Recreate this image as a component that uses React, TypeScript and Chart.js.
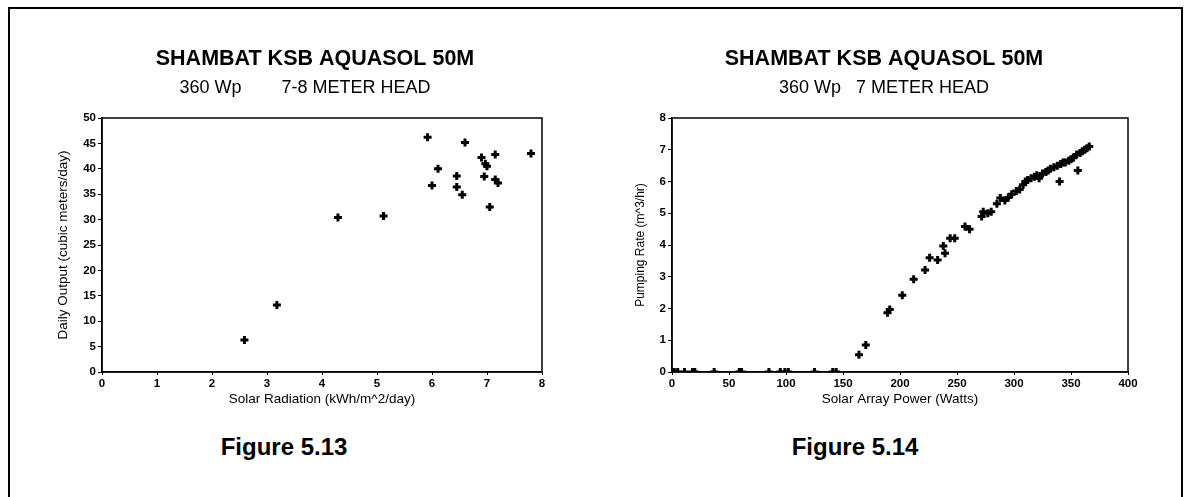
import React, { useEffect, useRef } from "react";
import { Chart, registerables } from "chart.js";

Chart.register(...registerables);

// ---------- Data ----------
const leftTitle = "SHAMBAT KSB AQUASOL 50M";
const leftSubtitle = "360 Wp        7-8 METER HEAD    ";
const leftXLabel = "Solar Radiation (kWh/m^2/day)";
const leftYLabel = "Daily Output (cubic meters/day)";
const leftRadiation = [2.59, 3.18, 4.29, 5.12, 5.92, 6.0, 6.11, 6.45, 6.45, 6.55, 6.6, 6.9, 6.95, 6.97, 7.0, 7.05, 7.15, 7.15, 7.2, 7.8];
const leftOutput = [6.3, 13.2, 30.4, 30.7, 46.2, 36.7, 40.0, 38.6, 36.4, 34.9, 45.2, 42.2, 38.5, 41.0, 40.5, 32.5, 42.8, 37.9, 37.2, 43.0];

const rightTitle = "SHAMBAT KSB AQUASOL 50M";
const rightSubtitle = "360 Wp   7 METER HEAD";
const rightXLabel = "Solar Array Power (Watts)";
const rightYLabel = "Pumping Rate (m^3/hr)";
const rightPower = [
  0, 2, 5, 11, 18, 20, 37, 59, 61, 85, 95, 99, 102, 125, 141, 144,
  164, 170, 189, 191, 202, 212, 222, 226, 233, 238, 239.5, 244, 248, 257, 261,
  271.6, 273, 277, 280, 285, 288, 292, 295, 298, 302, 305, 308, 310, 312, 315,
  318, 320, 322, 325, 328, 330, 332, 335, 338, 340, 341, 343, 345, 348, 350,
  352, 355, 356, 358, 360, 362, 364, 366,
];
const rightRate = [
  0, 0, 0, 0, 0, 0, 0, 0, 0, 0, 0, 0, 0, 0, 0, 0,
  0.54, 0.85, 1.87, 1.97, 2.42, 2.92, 3.21, 3.6, 3.53, 3.97, 3.74, 4.21, 4.21, 4.58, 4.5,
  4.9, 5.05, 5.0, 5.05, 5.3, 5.48, 5.4, 5.5, 5.6, 5.7, 5.75, 5.9, 6.0, 6.05, 6.1,
  6.15, 6.2, 6.1, 6.25, 6.3, 6.35, 6.4, 6.45, 6.5, 6.0, 6.55, 6.6, 6.6, 6.65, 6.7,
  6.75, 6.85, 6.35, 6.9, 6.95, 7.0, 7.05, 7.1,
];

const figureLabels = ["Figure 5.13", "Figure 5.14"];

const FONT = "'Liberation Sans', Arial, Helvetica, sans-serif";

const boxPlugin = {
  id: "plotBox",
  afterDraw(chart: any) {
    const { ctx, chartArea } = chart;
    ctx.save();
    ctx.strokeStyle = "#000";
    ctx.lineWidth = 1.5;
    ctx.strokeRect(chartArea.left, chartArea.top, chartArea.right - chartArea.left, chartArea.bottom - chartArea.top);
    ctx.restore();
  },
};

function makeConfig(opts: {
  xs: number[];
  ys: number[];
  title: string;
  subtitle: string;
  xLabel: string;
  yLabel: string;
  xMax: number;
  xStep: number;
  yMax: number;
  yStep: number;
  yAxisWidth: number;
  yTitlePad: number;
  yTitleSize: number;
  rightPad: number;
}) {
  const data = opts.xs.map((x, i) => ({ x, y: opts.ys[i] }));
  return {
    type: "scatter",
    data: {
      datasets: [
        {
          data,
          pointStyle: "cross",
          pointRadius: 4,
          pointBorderWidth: 3,
          borderColor: "#000",
          backgroundColor: "#000",
        },
      ],
    },
    options: {
      animation: false,
      responsive: false,
      maintainAspectRatio: false,
      layout: { padding: { left: 0, right: 0, top: 0, bottom: 18 } },
      plugins: {
        legend: { display: false },
        tooltip: { enabled: false },
        title: {
          display: true,
          text: opts.title,
          color: "#000",
          font: { family: FONT, size: 21.5, weight: "bold" },
          padding: { top: 16, bottom: 5 },
        },
        subtitle: {
          display: true,
          text: opts.subtitle,
          color: "#000",
          font: { family: FONT, size: 18, weight: "normal" },
          padding: { top: 0, bottom: 19.6 },
        },
      },
      scales: {
        x: {
          type: "linear",
          min: 0,
          max: opts.xMax,
          afterFit(scale: any) {
            scale.height = 40;
          },
          ticks: {
            stepSize: opts.xStep,
            color: "#000",
            padding: 2,
            maxRotation: 0,
            font: { family: FONT, size: 11.5, weight: "bold" },
          },
          grid: { drawOnChartArea: false, drawTicks: true, tickLength: 3, color: "#000", lineWidth: 1 },
          border: { color: "#000", width: 1.5 },
          title: {
            display: true,
            text: opts.xLabel,
            color: "#000",
            font: { family: FONT, size: 13.5, weight: "normal" },
            padding: { top: 0, bottom: 5 },
          },
        },
        y: {
          type: "linear",
          min: 0,
          max: opts.yMax,
          afterFit(scale: any) {
            scale.width = opts.yAxisWidth;
          },
          ticks: {
            stepSize: opts.yStep,
            color: "#000",
            padding: 2,
            font: { family: FONT, size: 11.5, weight: "bold" },
          },
          grid: { drawOnChartArea: false, drawTicks: true, tickLength: 4, color: "#000", lineWidth: 1 },
          border: { color: "#000", width: 1.5 },
          title: {
            display: true,
            text: opts.yLabel,
            color: "#000",
            font: { family: FONT, size: opts.yTitleSize, weight: "normal" },
            padding: { top: opts.yTitlePad, bottom: 0 },
          },
        },
        spacer: {
          type: "linear",
          position: "right",
          display: true,
          afterFit(scale: any) {
            scale.width = opts.rightPad;
          },
          ticks: { display: false },
          grid: { display: false, drawTicks: false },
          border: { display: false },
        },
      },
    },
    plugins: [boxPlugin],
  } as any;
}

function ChartCanvas(props: { config: any; left: number; top: number; width: number; height: number }) {
  const ref = useRef<HTMLCanvasElement | null>(null);
  useEffect(() => {
    if (!ref.current) return;
    const chart = new Chart(ref.current, props.config);
    return () => chart.destroy();
  }, []);
  return (
    <canvas
      ref={ref}
      width={props.width}
      height={props.height}
      style={{ position: "absolute", left: props.left, top: props.top, width: props.width, height: props.height }}
    />
  );
}

export default function App() {
  const leftConfig = makeConfig({
    xs: leftRadiation,
    ys: leftOutput,
    title: leftTitle,
    subtitle: leftSubtitle,
    xLabel: leftXLabel,
    yLabel: leftYLabel,
    xMax: 8,
    xStep: 1,
    yMax: 50,
    yStep: 5,
    yAxisWidth: 62,
    yTitlePad: 15,
    yTitleSize: 13.5,
    rightPad: 48,
  });
  const rightConfig = makeConfig({
    xs: rightPower,
    ys: rightRate,
    title: rightTitle,
    subtitle: rightSubtitle,
    xLabel: rightXLabel,
    yLabel: rightYLabel,
    xMax: 400,
    xStep: 50,
    yMax: 8,
    yStep: 1,
    yAxisWidth: 52,
    yTitlePad: 13,
    yTitleSize: 12,
    rightPad: 20,
  });
  return (
    <div
      style={{
        position: "fixed",
        left: 0,
        top: 0,
        width: 1185,
        height: 497,
        background: "#fff",
        overflow: "hidden",
      }}
    >
      <div
        style={{
          position: "absolute",
          left: 8,
          top: 7,
          width: 1175,
          height: 520,
          border: "2px solid #000",
          boxSizing: "border-box",
        }}
      />
      <ChartCanvas config={leftConfig} left={40} top={30} width={550} height={400} />
      <ChartCanvas config={rightConfig} left={620} top={30} width={528} height={400} />
      {figureLabels.map((t, i) => (
        <div
          key={t}
          style={{
            position: "absolute",
            left: i === 0 ? 284 : 855,
            top: 447,
            transform: "translate(-50%, -50%)",
            fontFamily: FONT,
            fontWeight: "bold",
            fontSize: 24,
            color: "#000",
            whiteSpace: "nowrap",
          }}
        >
          {t}
        </div>
      ))}
    </div>
  );
}
